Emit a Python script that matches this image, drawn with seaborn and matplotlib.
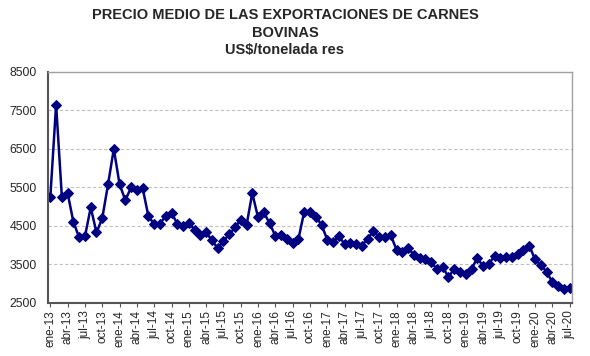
import matplotlib
matplotlib.use("Agg")
import matplotlib.pyplot as plt
import seaborn as sns
import pandas as pd

# monthly values, ene-13 .. jul-20 (US$/tonelada res)
months = ["ene", "feb", "mar", "abr", "may", "jun", "jul", "ago", "sep", "oct", "nov", "dic"]
years = ["13", "14", "15", "16", "17", "18", "19", "20"]

precio = [
    # 2013
    5250, 7650, 5250, 5350, 4600, 4200, 4230, 4980, 4330, 4700, 5580, 6500,
    # 2014
    5580, 5170, 5500, 5430, 5480, 4750, 4550, 4560, 4760, 4840, 4560, 4500,
    # 2015
    4580, 4400, 4270, 4330, 4130, 3920, 4110, 4280, 4460, 4660, 4520, 5350,
    # 2016
    4720, 4850, 4570, 4240, 4270, 4160, 4060, 4160, 4870, 4870, 4740, 4530,
    # 2017
    4140, 4070, 4250, 4020, 4050, 4030, 3990, 4170, 4360, 4210, 4210, 4260,
    # 2018
    3880, 3820, 3940, 3740, 3680, 3650, 3560, 3380, 3440, 3170, 3390, 3310,
    # 2019
    3260, 3380, 3670, 3450, 3510, 3730, 3680, 3690, 3700, 3770, 3880, 3990,
    # 2020
    3630, 3490, 3310, 3040, 2940, 2870, 2890,
]

labels = [f"{m}-{y}" for y in years for m in months][:len(precio)]
df = pd.DataFrame({"pos": range(len(precio)), "mes": labels, "precio": precio})

sns.set_theme(style="white")
plt.rcParams['font.family'] = ['Liberation Sans', 'DejaVu Sans']

fig = plt.figure(figsize=(5.9, 3.56), dpi=100)
ax = fig.add_axes([0.0814, 0.149, 0.888, 0.649])

sns.lineplot(data=df, x="pos", y="precio", ax=ax, color="#000080",
             linewidth=1.8, marker="D", markersize=5.5,
             markeredgecolor="#000080", markerfacecolor="#000080")

ax.set_xlim(-0.4, len(precio) - 0.6)
ax.set_ylim(2500, 8500)
ax.set_yticks(range(2500, 8501, 1000))
ax.set_xticks(df["pos"][::3])
ax.set_xticklabels(df["mes"][::3], rotation=90, fontsize=8.5)
ax.tick_params(axis="y", labelsize=8.8, length=0, pad=8)
ax.tick_params(axis="x", length=3, width=0.8, color="#555555", pad=2, bottom=True)
ax.set_xlabel("")
ax.set_ylabel("")

for y in range(3500, 8500, 1000):
    ax.axhline(y, color="#c0c0c0", linestyle=(0, (3, 2)), linewidth=0.8, zorder=0)

for side in ["top", "right"]:
    ax.spines[side].set_color("#a0a0a0")
    ax.spines[side].set_linewidth(1)
for side in ["left", "bottom"]:
    ax.spines[side].set_color("#555555")
    ax.spines[side].set_linewidth(1.5)

title_kw = dict(ha="center", va="center", fontsize=10.5, fontweight="bold")
fig.text(0.483, 0.957, "PRECIO MEDIO DE LAS EXPORTACIONES DE CARNES", **title_kw)
fig.text(0.483, 0.907, "BOVINAS", **title_kw)
fig.text(0.483, 0.859, "US$/tonelada res", **title_kw)

fig.savefig("out.png", dpi=100)
